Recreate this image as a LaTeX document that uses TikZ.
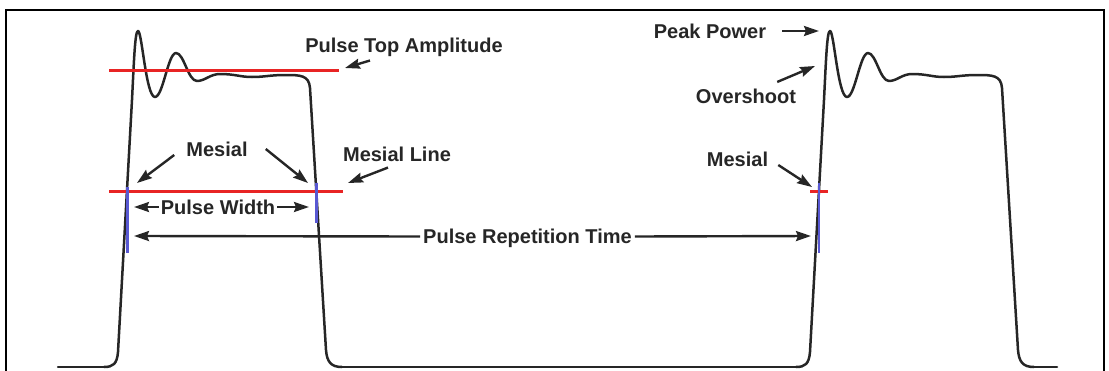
\documentclass[tikz,border=0pt]{standalone}
\usepackage{fontspec}
\setmainfont{Liberation Sans}
\usetikzlibrary{arrows.meta}
\definecolor{levelred}{RGB}{232,36,36}
\definecolor{edgeblue}{RGB}{88,88,210}

\tikzset{
  wave/.style={line width=2.5pt, black!85, line join=round, line cap=round},
  level/.style={levelred, line width=2.2pt},
  edgemark/.style={edgeblue, line width=2.2pt},
  lbl/.style={font=\fontsize{20}{24}\selectfont\bfseries, inner sep=0pt, text=black!85},
  pointer/.style={line width=2.4pt, black!85, -{Stealth[length=15pt,width=10pt,inset=2pt]}},
}

\begin{document}
\begin{tikzpicture}[x=1pt, y=-1pt]
  \useasboundingbox (0,0) rectangle (1109,370);
  \draw[line width=1.4pt] (6,371) -- (6,10) -- (1104,10) -- (1104,371);

  % baseline, then the same pulse twice
  \draw[wave] (58,367) -- (104,367) (342,367) -- (796,367) (1034,367) -- (1057,367);
  \foreach \dx in {0,692}{
    \draw[wave, xshift=\dx pt] (104,367) .. controls (113,367) and (117,364) .. (118,352)
      -- (132,100)
      .. controls (134,60) and (135,31) .. (138,31)
      .. controls (142,31) and (146,97) .. (155,97)
      .. controls (163,97) and (168,53) .. (176,53)
      .. controls (184,53) and (188,81) .. (197,81)
      .. controls (205,81) and (210,74) .. (220,74)
      .. controls (235,74) and (240,77) .. (252,77)
      .. controls (265,77) and (270,75) .. (285,75)
      .. controls (300,75) and (309,75) .. (310,88)
      -- (326,350)
      .. controls (327,362) and (331,367) .. (342,367);
  }

  % reference levels and mesial crossings
  \draw[level] (109,70.5) -- (339,70.5);
  \draw[level] (109,191.5) -- (343,191.5);
  \draw[level] (810,191.5) -- (828,191.5);
  \draw[edgemark] (127.5,187) -- (127.5,253);
  \draw[edgemark] (316.5,183) -- (316.5,223);
  \draw[edgemark] (819,183) -- (819,253);

  % labels
  \node[lbl] (topamp) at (404,47) {Pulse Top Amplitude};
  \node[lbl] (mesA) at (217,149) {Mesial};
  \node[lbl] (mesline) at (397,154) {Mesial Line};
  \node[lbl] (pw) at (218,207) {Pulse Width};
  \node[lbl] (prt) at (527.5,238.5) {Pulse Repetition Time};
  \node[lbl] (peak) at (710,31) {Peak Power};
  \node[lbl] (over) at (746,96.5) {Overshoot};
  \node[lbl] (mesB) at (737.5,159) {Mesial};

  % arrow tips
  \coordinate (topTip) at (345,68);
  \coordinate (mesATipL) at (137,183);
  \coordinate (mesATipR) at (308,183);
  \coordinate (lineTip) at (348,183);
  \coordinate (pwL) at (134,207);
  \coordinate (pwR) at (309,207);
  \coordinate (prtL) at (134,236);
  \coordinate (prtR) at (811,236);
  \coordinate (peakTip) at (819,31);
  \coordinate (overTip) at (815,66);
  \coordinate (mesBTip) at (812,187);

  % pointers
  \draw[pointer] ([shift={(-34,4)}]topamp.south) -- (topTip);
  \draw[pointer] ([shift={(-12,6)}]mesA.west) -- (mesATipL);
  \draw[pointer] ([shift={(18,0)}]mesA.east) -- (mesATipR);
  \draw[pointer] ([shift={(-9,6)}]mesline.south) -- (lineTip);
  \draw[pointer] ([xshift=-2pt]pw.west) -- (pwL);
  \draw[pointer] ([xshift=2pt]pw.east) -- (pwR);
  \draw[pointer] ([shift={(-3,-2)}]prt.west) -- (prtL);
  \draw[pointer] ([shift={(3,-2)}]prt.east) -- (prtR);
  \draw[pointer] ([xshift=16pt]peak.east) -- (peakTip);
  \draw[pointer] ([shift={(-19,-7)}]over.north east) -- (overTip);
  \draw[pointer] ([shift={(10,6)}]mesB.east) -- (mesBTip);
\end{tikzpicture}
\end{document}
